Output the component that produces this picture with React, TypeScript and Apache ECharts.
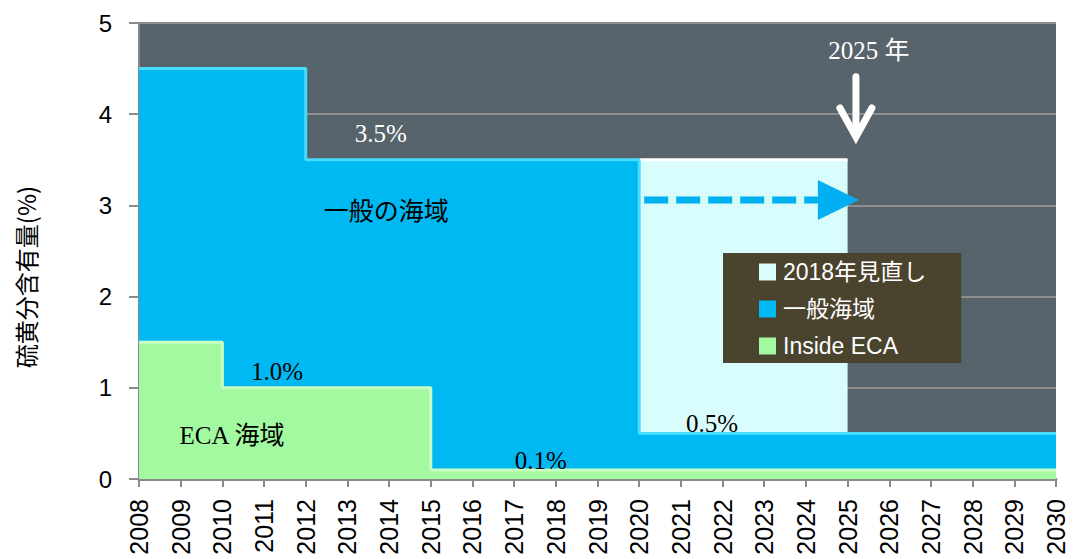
import React, { useEffect, useRef } from "react";
import * as echarts from "echarts";

// ---- data ----
const yearMin = 2008;
const yearMax = 2030;
const valueMin = 0;
const valueMax = 5;

const revisionName = "2018年見直し";
const generalName = "一般海域";
const ecaName = "Inside ECA";

const revisionYears = [2020, 2025];
const revisionValues = [3.5, 3.5];

const generalYears = [2008, 2012, 2012, 2020, 2020, 2030];
const generalValues = [4.5, 4.5, 3.5, 3.5, 0.5, 0.5];

const ecaYears = [2008, 2010, 2010, 2015, 2015, 2030];
const ecaValues = [1.5, 1.5, 1.0, 1.0, 0.1, 0.1];

const yAxisTitle = "硫黄分含有量(%)";

// annotation texts and their anchors in data space (year, value)
const noteTexts = ["3.5%", "一般の海域", "1.0%", "ECA 海域", "0.1%", "0.5%", "2025 年"];
const noteYears = [2013.8, 2013.93, 2011.31, 2010.23, 2017.64, 2021.75, 2025.51];
const noteValues = [3.79, 2.93, 1.18, 0.48, 0.2, 0.61, 4.7];
const noteLight = [true, false, false, false, false, false, true];

// arrows in data space
const downArrowYear = 2025.2;
const downArrowFrom = 4.41;
const downArrowTo = 3.75;
const shiftArrowFromYear = 2020.12;
const shiftArrowToYear = 2025.27;
const shiftArrowValue = 3.06;

const pairs = (xs: number[], ys: number[]) => xs.map((x, i) => [x, ys[i]]);

export default function App() {
  const ref = useRef<HTMLDivElement>(null);

  useEffect(() => {
    document.body.style.margin = "0";
    const chart = echarts.init(ref.current!, null, { renderer: "svg" });
    const axisGray = "#8a8a8a";
    const sans = "'Liberation Sans', Arial, 'Noto Sans CJK JP', sans-serif";
    const serif = "'Liberation Serif', 'Times New Roman', 'Noto Sans CJK JP', serif";

    chart.setOption({
      animation: false,
      backgroundColor: "#ffffff",
      grid: {
        left: 139,
        right: 22,
        top: 23,
        bottom: 80,
        show: true,
        backgroundColor: "#57646c",
        borderWidth: 0,
      },
      xAxis: {
        type: "value",
        min: yearMin,
        max: yearMax,
        interval: 1,
        axisLine: { show: true, onZero: false, lineStyle: { color: axisGray, width: 3 } },
        axisTick: { show: true, length: 8, lineStyle: { color: axisGray, width: 2 } },
        axisLabel: {
          rotate: 90,
          margin: 20,
          fontSize: 25,
          fontFamily: sans,
          color: "#000000",
          formatter: (v: number) => String(v),
        },
        splitLine: { show: false },
      },
      yAxis: {
        type: "value",
        min: valueMin,
        max: valueMax,
        interval: 1,
        axisLine: { show: true, lineStyle: { color: axisGray, width: 2 } },
        axisTick: { show: true, length: 10, lineStyle: { color: axisGray, width: 2 } },
        axisLabel: { margin: 27, fontSize: 24, fontFamily: sans, color: "#000000" },
        splitLine: { show: true, lineStyle: { color: "#8e8e8e", width: 2 } },
      },
      legend: {
        orient: "vertical",
        left: 723,
        top: 253,
        backgroundColor: "#4a432d",
        padding: [7, 35, 5, 36],
        itemWidth: 17,
        itemHeight: 17,
        itemGap: 13,
        icon: "rect",
        selectedMode: false,
        textStyle: {
          color: "#ffffff",
          fontSize: 23,
          lineHeight: 24,
          fontFamily: sans,
          padding: [0, 0, 0, 2],
        },
        data: [revisionName, generalName, ecaName],
      },
      series: [
        {
          name: revisionName,
          type: "line",
          data: pairs(revisionYears, revisionValues),
          symbol: "none",
          lineStyle: { color: "#ffffff", width: 3 },
          itemStyle: { color: "#d9fdfd" },
          areaStyle: { color: "#d9fdfd", opacity: 1 },
        },
        {
          name: generalName,
          type: "line",
          data: pairs(generalYears, generalValues),
          symbol: "none",
          lineStyle: { color: "#45dcff", width: 3 },
          itemStyle: { color: "#00b9f2" },
          areaStyle: { color: "#00b9f2", opacity: 1 },
        },
        {
          name: ecaName,
          type: "line",
          data: pairs(ecaYears, ecaValues),
          symbol: "none",
          lineStyle: { color: "#c8ffc3", width: 3 },
          itemStyle: { color: "#a3f9a0" },
          areaStyle: { color: "#a3f9a0", opacity: 1 },
        },
      ],
    });

    const px = (x: number, y: number) =>
      chart.convertToPixel({ gridIndex: 0 }, [x, y]) as number[];

    const graphics: any[] = [];

    noteTexts.forEach((t, i) => {
      const p = px(noteYears[i], noteValues[i]);
      graphics.push({
        type: "text",
        x: p[0],
        y: p[1],
        z: 50,
        style: {
          text: t,
          x: 0,
          y: 0,
          align: "center",
          verticalAlign: "middle",
          font: `25px ${serif}`,
          fill: noteLight[i] ? "#ffffff" : "#000000",
        },
      });
    });

    // down arrow (white, open head)
    const dTop = px(downArrowYear, downArrowFrom);
    const dTip = px(downArrowYear, downArrowTo);
    graphics.push({
      type: "line",
      z: 50,
      shape: { x1: dTop[0], y1: dTop[1], x2: dTip[0], y2: dTip[1] - 4 },
      style: { stroke: "#ffffff", lineWidth: 7, lineCap: "round" },
    });
    graphics.push({
      type: "polyline",
      z: 50,
      shape: {
        points: [
          [dTip[0] - 16, dTip[1] - 29],
          [dTip[0], dTip[1]],
          [dTip[0] + 16, dTip[1] - 29],
        ],
      },
      style: { stroke: "#ffffff", lineWidth: 7, lineCap: "round", lineJoin: "miter", fill: "none" },
    });

    // dashed blue arrow
    const sFrom = px(shiftArrowFromYear, shiftArrowValue);
    const sTip = px(shiftArrowToYear, shiftArrowValue);
    graphics.push({
      type: "line",
      z: 50,
      shape: { x1: sFrom[0], y1: sFrom[1], x2: sTip[0] - 38, y2: sTip[1] },
      style: { stroke: "#00b0f0", lineWidth: 7, lineDash: [24, 8] },
    });
    graphics.push({
      type: "polygon",
      z: 51,
      shape: {
        points: [
          [sTip[0] - 41, sTip[1] - 20],
          [sTip[0], sTip[1]],
          [sTip[0] - 41, sTip[1] + 20],
        ],
      },
      style: { fill: "#00b0f0" },
    });

    // y-axis title (rotated)
    graphics.push({
      type: "text",
      x: 25,
      y: 277,
      rotation: Math.PI / 2,
      style: {
        text: yAxisTitle,
        x: 0,
        y: 0,
        align: "center",
        verticalAlign: "middle",
        font: `24px 'Noto Sans CJK JP', sans-serif`,
        fill: "#000000",
      },
    });

    chart.setOption({ graphic: graphics });

    return () => {
      chart.dispose();
    };
  }, []);

  return (
    <div
      ref={ref}
      style={{ position: "absolute", left: 0, top: 0, width: 1078, height: 559 }}
    />
  );
}
